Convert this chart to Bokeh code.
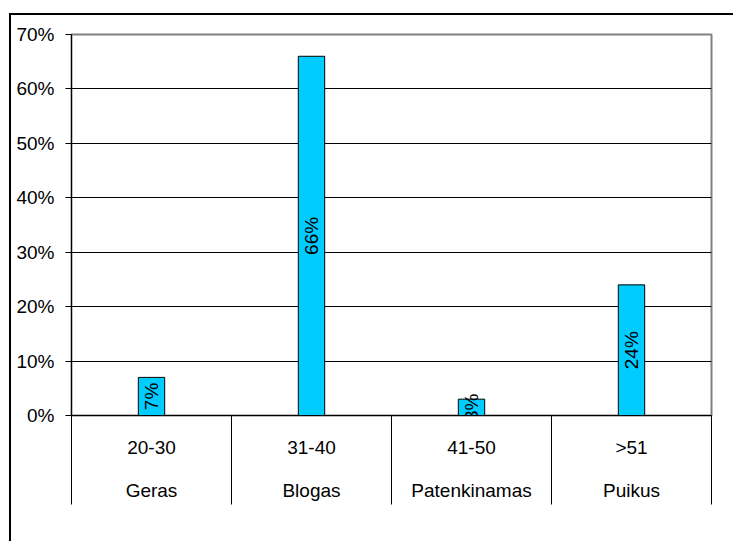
from math import pi

from bokeh.core.properties import value
from bokeh.embed import file_html
from bokeh.models import (ColumnDataSource, FixedTicker, LinearAxis,
                          NumeralTickFormatter, Range1d)
from bokeh.plotting import figure
from bokeh.resources import INLINE

# Survey results: share of respondents per score band
bands = ["20-30", "31-40", "41-50", ">51"]
ratings = ["Geras", "Blogas", "Patenkinamas", "Puikus"]
shares = [0.07, 0.66, 0.03, 0.24]
y_ticks = [0.0, 0.1, 0.2, 0.3, 0.4, 0.5, 0.6, 0.7]

FONT = "Liberation Sans"
BAR_COLOR = "#00CCFF"

positions = [i + 0.5 for i in range(len(bands))]
source = ColumnDataSource(dict(
    x=positions,
    top=shares,
    mid=[s / 2 for s in shares],
    label=[f"{round(s * 100)}%" for s in shares],
))

p = figure(width=733, height=541, output_backend="svg", toolbar_location=None,
           x_range=Range1d(0, len(bands)), y_range=Range1d(0, 0.7),
           x_axis_location=None, y_axis_location=None,
           min_border_left=71, min_border_right=22,
           min_border_top=34, min_border_bottom=126)
p.background_fill_color = "white"
p.border_fill_color = None
p.outline_line_color = "#808080"
p.outline_line_width = 2

# chart area frame: black top and left edges behind the transparent border
p.styles = {
    "background-color": "white",
    "background-image": "linear-gradient(black, black), linear-gradient(black, black)",
    "background-size": "100% 2px, 2px 100%",
    "background-position": "9px 13px, 9px 13px",
    "background-repeat": "no-repeat",
}

# value axis
yaxis = LinearAxis(ticker=FixedTicker(ticks=y_ticks, minor_ticks=[]),
                   formatter=NumeralTickFormatter(format="0%"))
yaxis.axis_line_color = "black"
yaxis.major_tick_line_color = "black"
yaxis.major_tick_out = 6
yaxis.major_tick_in = 0
yaxis.minor_tick_out = 0
yaxis.major_label_standoff = 11
yaxis.major_label_text_font = FONT
yaxis.major_label_text_font_size = "19px"
yaxis.major_label_text_color = "black"
p.add_layout(yaxis, "left")

# category axis: labels at band centres, separators at band edges
xaxis = LinearAxis(ticker=FixedTicker(ticks=positions,
                                      minor_ticks=list(range(len(bands) + 1))))
xaxis.major_label_overrides = {pos: f"{b}\n{r}" for pos, b, r in zip(positions, bands, ratings)}
xaxis.axis_line_color = "black"
xaxis.major_tick_out = 0
xaxis.major_tick_in = 0
xaxis.minor_tick_in = 0
xaxis.minor_tick_out = 89
xaxis.minor_tick_line_color = "black"
xaxis.major_label_standoff = -68
xaxis.major_label_text_font = FONT
xaxis.major_label_text_font_size = "19px"
xaxis.major_label_text_color = "black"
xaxis.major_label_text_line_height = 2.07
p.add_layout(xaxis, "below")

p.xgrid.visible = False
p.ygrid.ticker = FixedTicker(ticks=y_ticks[:-1])
p.ygrid.grid_line_color = "black"
p.ygrid.grid_line_width = 1
p.ygrid.grid_line_alpha = 1

p.vbar(x="x", top="top", bottom=0, width=0.165, source=source,
       fill_color=BAR_COLOR, line_color="black", line_width=1)

p.text(x="x", y="mid", text="label", source=source, angle=pi / 2,
       text_align="center", text_baseline="middle",
       text_font=value(FONT), text_font_size="19px", text_color="black")

open("out.html", "w").write(file_html(p, INLINE))
